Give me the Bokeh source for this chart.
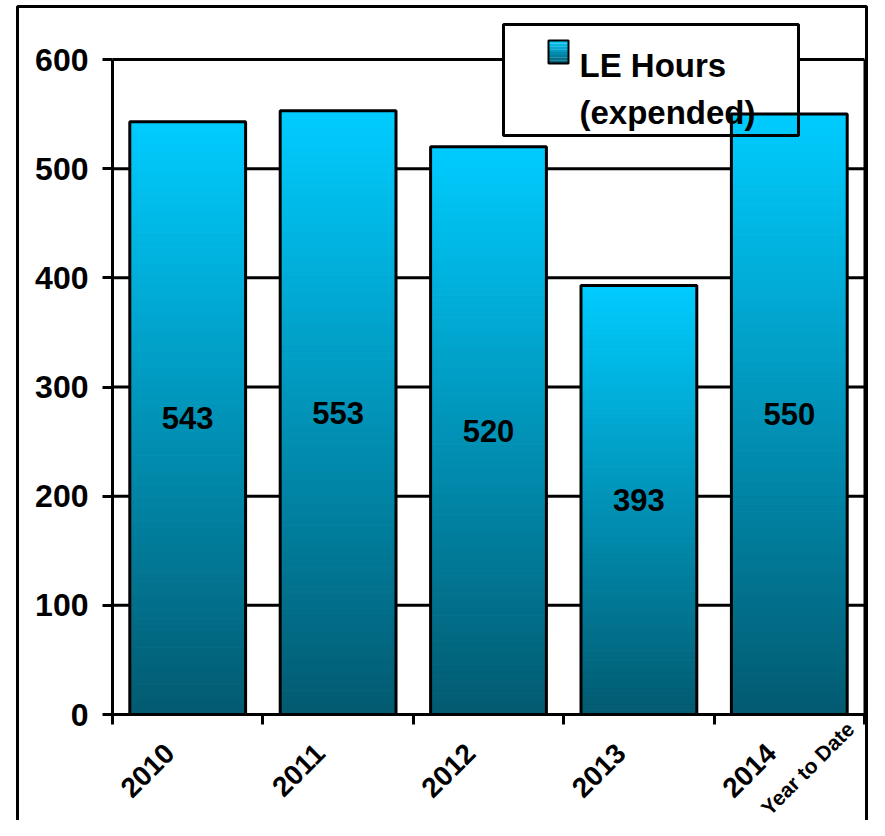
import math
from bokeh.plotting import figure
from bokeh.models import (FixedTicker, Range1d, BoxAnnotation, Label, ColumnDataSource)
from bokeh.core.properties import value
from bokeh.embed import file_html
from bokeh.resources import INLINE

# ---- data ----
categories = ["2010", "2011", "2012", "2013", "2014"]
category_note = "Year to Date"
hours = [543, 553, 520, 393, 550]
series_name = ["LE Hours", "(expended)"]
y_ticks = [0, 100, 200, 300, 400, 500, 600]

FONT = "Liberation Sans"

TOP_C = (0, 204, 255)
BOT_C = (2, 90, 112)

def mix(t):
    r = round(BOT_C[0] + (TOP_C[0] - BOT_C[0]) * t)
    g = round(BOT_C[1] + (TOP_C[1] - BOT_C[1]) * t)
    b = round(BOT_C[2] + (TOP_C[2] - BOT_C[2]) * t)
    return "#%02x%02x%02x" % (r, g, b)

# canvas / plotting-area geometry (px)
W, H = 869, 820
FL, FR, FT, FB = 112, 864, 59, 714
XA, XB = -0.5, len(categories) - 0.5
YA, YB = 0, 600
SX = (FR - FL) / (XB - XA)
SY = (FB - FT) / (YB - YA)
x_start = XA - FL / SX
x_end = x_start + W / SX
y_start = YA - (H - FB) / SY
y_end = y_start + H / SY

def dx(px):
    return x_start + px / SX

def dy(py):
    return y_end - py / SY

p = figure(width=W, height=H, min_border=0,
           x_range=Range1d(x_start, x_end), y_range=Range1d(y_start, y_end),
           output_backend="svg", toolbar_location=None,
           background_fill_color="white", border_fill_color="white")
p.outline_line_color = None
p.grid.visible = False

# grid lines and right edge of plotting area
p.segment(x0=[XA] * len(y_ticks), x1=[XB] * len(y_ticks), y0=y_ticks, y1=y_ticks,
          line_color="black", line_width=3)
p.segment(x0=[XB], x1=[XB], y0=[YA], y1=[YB], line_color="black", line_width=2)

# legend background (under bars)
p.quad(left=[dx(503)], right=[dx(798)], top=[dy(24)], bottom=[dy(135)],
       fill_color="white", line_color=None)

# bars with vertical gradient
BW = 0.77
N = 80
L, R, B, T, C = [], [], [], [], []
for i, v in enumerate(hours):
    for k in range(N):
        L.append(i - BW / 2); R.append(i + BW / 2)
        B.append(v * k / N); T.append(v * (k + 1) / N)
        C.append(mix((k + 0.5) / N))
src = ColumnDataSource(dict(left=L, right=R, bottom=B, top=T, color=C))
p.quad(left="left", right="right", bottom="bottom", top="top", source=src,
       fill_color="color", line_color="color", line_width=1)
xs = list(range(len(categories)))
p.vbar(x=xs, top=hours, width=BW, fill_color=None, line_color="black", line_width=3)

# value labels
p.text(x=xs, y=[v / 2 for v in hours], text=[str(v) for v in hours],
       text_font=value(FONT), text_font_style="bold", text_font_size="31px",
       text_align="center", text_baseline="middle", text_color="black")

# axes (drawn at fixed data locations)
ya = p.yaxis[0]
ya.fixed_location = XA
ya.bounds = (YA, YB)
ya.ticker = FixedTicker(ticks=y_ticks)
ya.axis_line_width = 3
ya.axis_line_color = "black"
ya.major_tick_line_width = 3
ya.major_tick_out = 10
ya.major_tick_in = 0
ya.minor_tick_line_color = None
ya.major_label_text_font = FONT
ya.major_label_text_font_style = "bold"
ya.major_label_text_font_size = "32px"
ya.major_label_text_color = "black"
ya.major_label_standoff = 14

LABEL_SHIFT = 0.12
label_pos = [round(i - LABEL_SHIFT, 4) for i in xs]
xa = p.xaxis[0]
xa.fixed_location = YA
xa.bounds = (XA, XB)
xa.ticker = FixedTicker(ticks=label_pos, minor_ticks=[i - 0.5 for i in range(len(categories) + 1)])
xa.major_label_overrides = {pos: c for pos, c in zip(label_pos, categories)}
xa.axis_line_width = 3
xa.axis_line_color = "black"
xa.major_tick_out = 0
xa.major_tick_in = 0
xa.major_tick_line_color = None
xa.minor_tick_line_color = "black"
xa.minor_tick_line_width = 3
xa.minor_tick_out = 10
xa.minor_tick_in = 0
xa.major_label_orientation = math.pi / 4
xa.major_label_text_font = FONT
xa.major_label_text_font_style = "bold"
xa.major_label_text_font_size = "28px"
xa.major_label_text_color = "black"
xa.major_label_standoff = 24

# second line of last category label
p.add_layout(Label(x=dx(850), y=dy(725), text=category_note, angle=math.pi / 4,
                   text_font=FONT, text_font_style="bold", text_font_size="21px",
                   text_align="right", text_baseline="alphabetic", text_color="black"))

# legend border, swatch, text
p.add_layout(BoxAnnotation(left=dx(503), right=dx(798), top=dy(24), bottom=dy(135),
                           fill_alpha=0, line_color="black", line_alpha=1, line_width=3))
NS = 8
for k in range(NS):
    y_top = 40 + (63 - 40) * k / NS
    y_bot = 40 + (63 - 40) * (k + 1) / NS
    p.add_layout(BoxAnnotation(left=dx(548), right=dx(568), top=dy(y_top), bottom=dy(y_bot),
                               fill_color=mix(1 - (k + 0.5) / NS), fill_alpha=1,
                               line_color=None))
p.add_layout(BoxAnnotation(left=dx(548), right=dx(568), top=dy(40), bottom=dy(63),
                           fill_alpha=0, line_color="black", line_alpha=1, line_width=2))
p.add_layout(Label(x=dx(579), y=dy(65), text=series_name[0], text_font=FONT,
                   text_font_style="bold", text_font_size="33px", text_align="left",
                   text_baseline="alphabetic", text_color="black"))
p.add_layout(Label(x=dx(579), y=dy(112), text=series_name[1], text_font=FONT,
                   text_font_style="bold", text_font_size="33px", text_align="left",
                   text_baseline="alphabetic", text_color="black"))

# outer border
p.add_layout(BoxAnnotation(left=dx(17), right=dx(866), top=dy(6), bottom=dy(900),
                           fill_alpha=0, line_color="black", line_alpha=1, line_width=3))

open("out.html", "w").write(file_html(p, INLINE))
